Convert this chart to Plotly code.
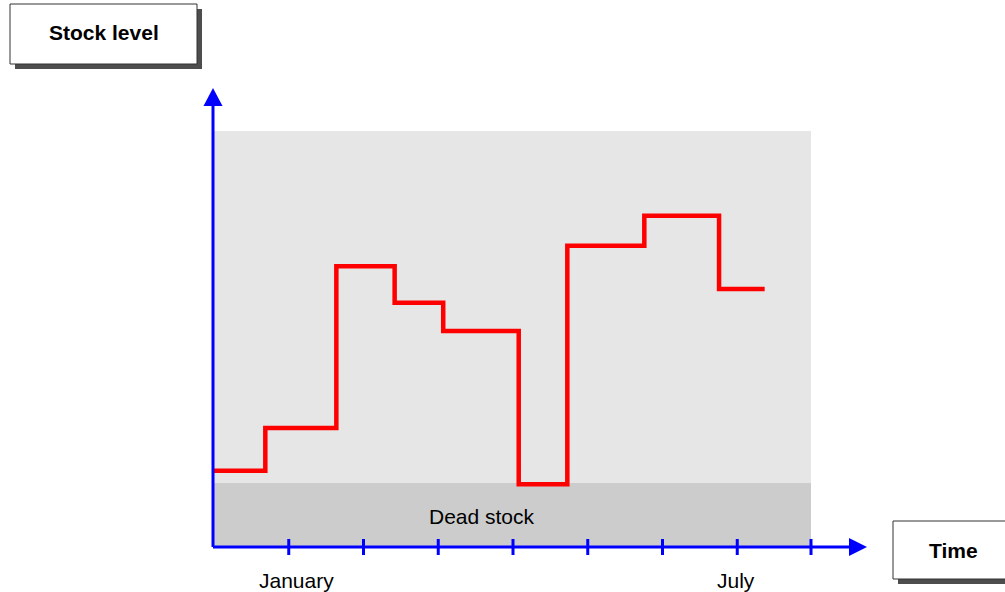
import plotly.graph_objects as go

# ---- data ----
step_x = [0, 0.70, 1.65, 2.43, 3.08, 4.09, 4.74, 5.77, 6.77, 7.38]
stock = [18.3, 28.6, 67.5, 58.7, 51.9, 15.1, 72.4, 79.6, 62.0, 62.0]
tick_positions = [1, 2, 3, 4, 5, 6, 7, 8]
month_labels = ["January", "July"]
month_label_x = [1.12, 7.0]
dead_stock_level = 15.4
band_top = 100
band_right = 8

W, H = 1005, 592
# pixel mapping used for layout ranges
X0_PX, X_UNIT = 213, 74.75
Y0_PX, Y_UNIT = 547, 4.16
x_range = [(0 - X0_PX) / X_UNIT, (W - X0_PX) / X_UNIT]
y_range = [(Y0_PX - H) / Y_UNIT, Y0_PX / Y_UNIT]

fig = go.Figure()
fig.add_trace(go.Scatter(x=step_x, y=stock, mode="lines", line_shape="hv",
                         line=dict(color="#ff0000", width=4.5), hoverinfo="skip",
                         showlegend=False))

shapes = []
# background bands
shapes.append(dict(type="rect", xref="x", yref="y", x0=0, x1=band_right, y0=dead_stock_level, y1=band_top,
                   fillcolor="#e6e6e6", line=dict(width=0), layer="below"))
shapes.append(dict(type="rect", xref="x", yref="y", x0=0, x1=band_right, y0=0, y1=dead_stock_level,
                   fillcolor="#cccccc", line=dict(width=0), layer="below"))
blue = "#0000ff"
# axes
y_axis_top = (Y0_PX - 106) / Y_UNIT
y_tip = (Y0_PX - 88) / Y_UNIT
x_axis_right = (849 - X0_PX) / X_UNIT
x_tip = (867 - X0_PX) / X_UNIT
shapes.append(dict(type="line", xref="x", yref="y", x0=0, x1=0, y0=0, y1=y_axis_top,
                   line=dict(color=blue, width=3)))
shapes.append(dict(type="line", xref="x", yref="y", x0=0, x1=x_axis_right, y0=0, y1=0,
                   line=dict(color=blue, width=3)))
# arrowheads
ax_w = 9.5 / X_UNIT
shapes.append(dict(type="path", xref="x", yref="y",
                   path=f"M {-ax_w} {y_axis_top} L {ax_w} {y_axis_top} L 0 {y_tip} Z",
                   fillcolor=blue, line=dict(color=blue, width=0)))
ah = 9 / Y_UNIT
shapes.append(dict(type="path", xref="x", yref="y",
                   path=f"M {x_axis_right} {-ah} L {x_axis_right} {ah} L {x_tip} 0 Z",
                   fillcolor=blue, line=dict(color=blue, width=0)))
# ticks
tk = 8 / Y_UNIT
for t in tick_positions:
    tx = t + 1.0 / X_UNIT * (1 if t < 8 else 0)
    shapes.append(dict(type="line", xref="x", yref="y", x0=tx, x1=tx, y0=-tk, y1=tk,
                       line=dict(color=blue, width=3)))

# title boxes (paper coords)
def px(x):
    return x / W

def py(y):
    return 1 - y / H

def box(x0, y0, x1, y1):
    shapes.append(dict(type="rect", xref="paper", yref="paper", x0=px(x0 + 5), x1=px(x1 + 5),
                       y0=py(y1 + 5), y1=py(y0 + 5), fillcolor="#4d4d4d", line=dict(width=0)))
    shapes.append(dict(type="rect", xref="paper", yref="paper", x0=px(x0), x1=px(x1),
                       y0=py(y1), y1=py(y0), fillcolor="white", line=dict(color="#333333", width=1)))

box(10, 4, 197, 64)
box(893, 521, 1010, 579)

annotations = []
common = dict(showarrow=False, xanchor="center", yanchor="middle")
annotations.append(dict(xref="paper", yref="paper", x=px(104), y=py(33), text="<b>Stock level</b>",
                        font=dict(size=21, color="black", family="Liberation Sans"), **common))
annotations.append(dict(xref="paper", yref="paper", x=px(953), y=py(550), text="<b>Time</b>",
                        font=dict(size=21, color="black", family="Liberation Sans"), **common))
annotations.append(dict(xref="x", yref="y", x=(482 - X0_PX) / X_UNIT, y=(Y0_PX - 516) / Y_UNIT,
                        text="Dead stock",
                        font=dict(size=21, color="black", family="Liberation Sans"), **common))
for lab, lx in zip(month_labels, month_label_x):
    annotations.append(dict(xref="x", yref="y", x=lx, y=(Y0_PX - 580) / Y_UNIT, text=lab,
                            font=dict(size=21, color="black", family="Liberation Sans"), **common))

fig.update_layout(width=W, height=H, margin=dict(l=0, r=0, t=0, b=0),
                  paper_bgcolor="white", plot_bgcolor="white",
                  xaxis=dict(range=x_range, visible=False, fixedrange=True),
                  yaxis=dict(range=y_range, visible=False, fixedrange=True),
                  shapes=shapes, annotations=annotations, showlegend=False)
fig.write_html("out.html", config={"displayModeBar": False},
               post_script="document.body.style.margin='0';document.body.style.overflow='hidden';")
